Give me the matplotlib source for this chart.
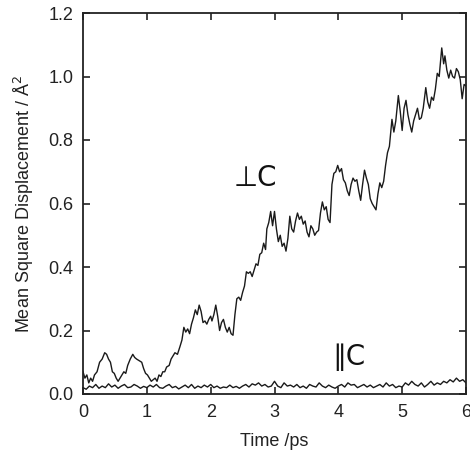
import matplotlib
matplotlib.use("Agg")
import matplotlib.pyplot as plt
import numpy as np

plt.rcParams['font.family'] = ['Liberation Sans', 'DejaVu Sans']

# Perpendicular to c (⊥C) MSD
t_perp = [0.00, 0.03, 0.06, 0.09, 0.12, 0.15, 0.18, 0.22, 0.26, 0.30, 0.34, 0.37, 0.40, 0.43, 0.46, 0.49,
          0.52, 0.55, 0.58, 0.61, 0.64, 0.67, 0.70, 0.74, 0.78, 0.81, 0.84, 0.88, 0.92, 0.95, 0.98, 1.01,
          1.04, 1.07, 1.10, 1.13, 1.16, 1.19, 1.22, 1.25, 1.28, 1.31, 1.35, 1.38, 1.41, 1.44, 1.48, 1.52,
          1.55, 1.58, 1.61, 1.64, 1.67, 1.70, 1.73, 1.76, 1.79, 1.82, 1.85, 1.88, 1.91, 1.94, 1.97, 2.00,
          2.02, 2.05, 2.08, 2.11, 2.14, 2.17, 2.20, 2.23, 2.26, 2.29, 2.32, 2.35, 2.38, 2.41, 2.44, 2.47,
          2.50, 2.53, 2.56, 2.59, 2.62, 2.65, 2.68, 2.71, 2.74, 2.77, 2.80, 2.83, 2.86, 2.88, 2.91, 2.94,
          2.97, 3.00, 3.03, 3.06, 3.09, 3.12, 3.15, 3.18, 3.21, 3.24, 3.27, 3.30, 3.33, 3.36, 3.39, 3.42,
          3.45, 3.48, 3.51, 3.54, 3.57, 3.60, 3.63, 3.66, 3.69, 3.72, 3.75, 3.78, 3.81, 3.84, 3.87, 3.90,
          3.93, 3.96, 3.99, 4.02, 4.05, 4.08, 4.11, 4.14, 4.17, 4.20, 4.23, 4.26, 4.29, 4.32, 4.35, 4.38,
          4.41, 4.44, 4.47, 4.50, 4.53, 4.56, 4.59, 4.62, 4.65, 4.68, 4.71, 4.74, 4.77, 4.80, 4.84, 4.87,
          4.90, 4.94, 4.97, 5.00, 5.03, 5.06, 5.09, 5.12, 5.15, 5.18, 5.21, 5.24, 5.27, 5.30, 5.33, 5.37,
          5.40, 5.43, 5.46, 5.49, 5.52, 5.55, 5.58, 5.62, 5.65, 5.67, 5.70, 5.73, 5.76, 5.79, 5.82, 5.85,
          5.88, 5.91, 5.94, 5.97, 6.00]
msd_perp = [0.07, 0.05, 0.06, 0.035, 0.05, 0.04, 0.06, 0.07, 0.10, 0.11, 0.13, 0.125, 0.11, 0.10, 0.07, 0.065,
            0.05, 0.04, 0.05, 0.06, 0.07, 0.065, 0.09, 0.11, 0.125, 0.115, 0.11, 0.105, 0.10, 0.08, 0.065, 0.06,
            0.05, 0.04, 0.045, 0.05, 0.04, 0.06, 0.055, 0.07, 0.07, 0.085, 0.09, 0.11, 0.12, 0.13, 0.125, 0.15,
            0.17, 0.21, 0.195, 0.205, 0.19, 0.22, 0.24, 0.265, 0.25, 0.28, 0.26, 0.225, 0.23, 0.22, 0.235, 0.245,
            0.23, 0.25, 0.28, 0.245, 0.20, 0.225, 0.235, 0.21, 0.195, 0.21, 0.19, 0.185, 0.25, 0.30, 0.305, 0.295,
            0.32, 0.34, 0.385, 0.38, 0.385, 0.37, 0.39, 0.41, 0.405, 0.44, 0.445, 0.475, 0.455, 0.52, 0.54, 0.575,
            0.53, 0.575, 0.52, 0.48, 0.50, 0.465, 0.475, 0.45, 0.49, 0.56, 0.52, 0.51, 0.545, 0.57, 0.55, 0.56,
            0.535, 0.545, 0.51, 0.495, 0.53, 0.52, 0.50, 0.51, 0.515, 0.57, 0.605, 0.58, 0.59, 0.55, 0.54, 0.66,
            0.695, 0.70, 0.72, 0.70, 0.71, 0.675, 0.665, 0.64, 0.625, 0.66, 0.68, 0.67, 0.675, 0.64, 0.61, 0.66,
            0.705, 0.68, 0.66, 0.615, 0.60, 0.59, 0.58, 0.63, 0.665, 0.65, 0.67, 0.72, 0.76, 0.78, 0.865, 0.825,
            0.86, 0.94, 0.89, 0.83, 0.90, 0.925, 0.88, 0.85, 0.825, 0.86, 0.88, 0.90, 0.865, 0.87, 0.90, 0.965,
            0.92, 0.90, 0.935, 0.925, 0.96, 1.01, 1.00, 1.09, 1.04, 1.065, 1.02, 0.995, 1.02, 1.00, 0.995, 1.025,
            1.015, 0.99, 0.93, 0.975, 0.97]

# Parallel to c (∥C) MSD, sampled every 0.05 ps
t_par = [round(0.05 * i, 2) for i in range(121)]
msd_par = [0.02, 0.015, 0.025, 0.02, 0.03, 0.018, 0.025, 0.02, 0.032, 0.022, 0.028, 0.018, 0.025, 0.03, 0.02, 0.022,
           0.03, 0.025, 0.018, 0.024, 0.02,
           0.028, 0.022, 0.03, 0.02, 0.018, 0.025, 0.03, 0.02, 0.024, 0.016, 0.022, 0.028, 0.02, 0.03, 0.018,
           0.025, 0.02, 0.028, 0.022, 0.03,
           0.02, 0.025, 0.018, 0.022, 0.02, 0.028, 0.02, 0.024, 0.018, 0.025, 0.03, 0.022, 0.032, 0.028, 0.035,
           0.025, 0.03, 0.022, 0.025, 0.04,
           0.025, 0.02, 0.035, 0.025, 0.028, 0.022, 0.03, 0.02, 0.025, 0.018, 0.03, 0.025, 0.022, 0.035, 0.025,
           0.02, 0.028, 0.022, 0.018, 0.025,
           0.03, 0.022, 0.035, 0.028, 0.03, 0.02, 0.025, 0.03, 0.022, 0.028, 0.02, 0.025, 0.03, 0.022, 0.035,
           0.025, 0.03, 0.02, 0.025, 0.022,
           0.035, 0.028, 0.04, 0.03, 0.025, 0.035, 0.022, 0.03, 0.04, 0.028, 0.035, 0.03, 0.04, 0.035, 0.045,
           0.038, 0.05, 0.04, 0.045, 0.035]

xticks = [0, 1, 2, 3, 4, 5, 6]
yticks = [0.0, 0.2, 0.4, 0.6, 0.8, 1.0, 1.2]

fig = plt.figure(figsize=(4.70, 4.67), dpi=100)
ax = fig.add_axes([83 / 470, 1 - 394 / 467, (466 - 83) / 470, (394 - 13) / 467])

ax.plot(t_perp, msd_perp, color='#1a1a1a', lw=1.0)
ax.plot(t_par, msd_par, color='#1a1a1a', lw=1.0)

ax.set_xlim(0, 6)
ax.set_ylim(0, 1.2)
ax.set_xticks(xticks)
ax.set_yticks(yticks)
ax.set_xticklabels([str(v) for v in xticks])
ax.set_yticklabels([f"{v:.1f}" for v in yticks])
ax.tick_params(direction='in', length=5, width=1.2, top=True, right=True,
               labelsize=13, colors='#222222', pad=7)
for s in ax.spines.values():
    s.set_linewidth(1.3)
    s.set_color('#222222')

ax.set_xlabel('Time /ps', fontsize=13, color='#222222', labelpad=9)
ax.set_ylabel('Mean Square Displacement / Å$^2$', fontsize=13, color='#222222', labelpad=9)

ax.text(2.7, 0.68, '⊥C', fontsize=20, ha='center', va='center', color='#111111',
        family=['DejaVu Sans'])
ax.text(4.17, 0.115, '∥C', fontsize=20, ha='center', va='center', color='#111111',
        family=['DejaVu Sans'])

fig.savefig('out.png', dpi=100)
